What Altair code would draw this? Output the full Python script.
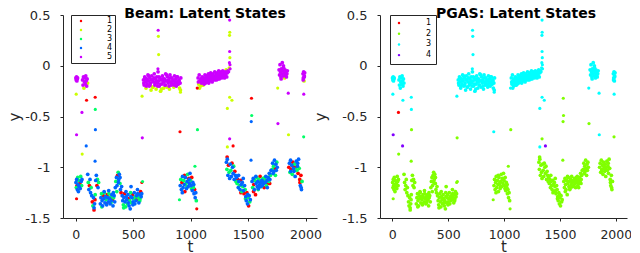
import altair as alt
import pandas as pd

FONT = "DejaVu Sans"
AXIS_GREY = "#262626"

# ---------------- data ----------------
# lower regime clusters (PGAS state 2)
lo1_t = [3, 6, 9, 12, 15, 18, 21, 24, 27, 30, 36, 40, 44, 48, 52, 55]
lo1_y = [-1.15, -1.20, -1.12, -1.18, -1.22, -1.10, -1.17, -1.24, -1.13, -1.19,
         -1.16, -1.21, -1.09, -1.14, -1.18, -1.12]
lo1_beam = "4341434434143434"

lo2_t = [105, 110, 115, 120, 125, 130, 135, 140, 145, 150, 155, 160, 165, 170,
         175, 180, 185, 190, 195, 200, 160, 168]
lo2_y = [-1.07, -1.15, -1.22, -1.18, -1.12, -1.25, -1.20, -1.28, -1.34, -1.38,
         -1.30, -1.42, -1.36, -1.27, -1.13, -1.08, -1.18, -1.12, -1.20, -1.15,
         -1.40, -1.32]
lo2_beam = "4341443413414344134341"

lo3_t = [215, 220, 225, 230, 235, 240, 245, 250, 255, 260, 265, 270, 275, 280,
         285, 290, 295, 300, 305, 310, 315, 320, 325, 330, 335, 340,
         228, 248, 268, 288, 308, 328]
lo3_y = [-1.36, -1.30, -1.26, -1.33, -1.38, -1.28, -1.31, -1.25, -1.35, -1.29,
         -1.32, -1.37, -1.27, -1.30, -1.34, -1.26, -1.31, -1.36, -1.29, -1.33,
         -1.27, -1.32, -1.38, -1.30, -1.28, -1.34,
         -1.39, -1.24, -1.36, -1.23, -1.35, -1.25]
lo3_beam = "44344143" "44341443" "44344143" "44341434"

lo4_t = [345, 350, 355, 360, 365, 370, 375, 380, 385, 390, 395, 400, 358, 372, 386]
lo4_y = [-1.20, -1.14, -1.10, -1.18, -1.08, -1.05, -1.12, -1.07, -1.16, -1.22,
         -1.25, -1.19, -1.24, -1.15, -1.10]
lo4_beam = "434413443414344"

lo5_t = list(range(405, 576, 5)) + [418, 438, 458, 478, 498, 518, 538, 558, 482]
lo5_y = [-1.28, -1.33, -1.37, -1.30, -1.26, -1.34, -1.39, -1.29, -1.32, -1.36,
         -1.27, -1.31, -1.38, -1.33, -1.41, -1.29, -1.35, -1.30, -1.27, -1.34,
         -1.31, -1.25, -1.36, -1.29, -1.33, -1.28, -1.32, -1.26, -1.30, -1.35,
         -1.27, -1.31, -1.24, -1.29, -1.26,
         -1.40, -1.24, -1.35, -1.25, -1.37, -1.30, -1.22, -1.33, -1.19]
lo5_beam = "4434143443" "4143443414" "3443441434" "4314434434" "1434"

lo6_t = list(range(910, 1051, 5)) + [928, 948, 968, 988, 1008, 1028]
lo6_y = [-1.18, -1.12, -1.22, -1.15, -1.09, -1.20, -1.13, -1.17, -1.24, -1.10,
         -1.16, -1.21, -1.14, -1.07, -1.19, -1.11, -1.16, -1.06, -1.13, -1.18,
         -1.10, -1.23, -1.15, -1.20, -1.26, -1.22, -1.30, -1.25, -1.33,
         -1.25, -1.08, -1.19, -1.12, -1.21, -1.17]
lo6_beam = "4341443414" "3443414434" "1443414434" "13434"

lo7_t = [1312, 1316, 1320, 1325, 1330, 1335, 1340, 1345, 1350, 1355, 1360, 1365,
         1370, 1375, 1380, 1385, 1390, 1395, 1318]
lo7_y = [-0.95, -1.02, -0.92, -1.08, -0.98, -1.05, -1.11, -0.97, -1.03, -1.09,
         -0.96, -1.00, -1.06, -0.99, -1.12, -1.04, -1.08, -1.14, -0.90]
lo7_beam = "434413443414434143" "1"

lo8_t = list(range(1400, 1521, 5)) + [1418, 1438, 1458, 1478, 1498]
lo8_y = [-1.10, -1.16, -1.12, -1.20, -1.14, -1.18, -1.22, -1.13, -1.17, -1.24,
         -1.15, -1.19, -1.23, -1.26, -1.18, -1.22, -1.29, -1.33, -1.25, -1.36,
         -1.30, -1.38, -1.28, -1.34, -1.32,
         -1.08, -1.25, -1.11, -1.31, -1.27]
lo8_beam = "4314434143" "4341434414" "3143441434"

lo9_t = list(range(1535, 1701, 5)) + [1548, 1568, 1588, 1608, 1628, 1648, 1668, 1688]
lo9_y = [-1.14, -1.20, -1.11, -1.17, -1.22, -1.13, -1.27, -1.16, -1.10, -1.19,
         -1.14, -1.21, -1.12, -1.17, -1.09, -1.15, -1.19, -1.13, -1.18, -1.11,
         -1.16, -1.20, -1.12, -1.15, -1.09, -1.18, -1.13, -1.16, -1.10, -1.14,
         -1.06, -1.12, -1.08, -1.03,
         -1.24, -1.09, -1.22, -1.19, -1.14, -1.10, -1.20, -1.16]
lo9_beam = "4341431434" "4434143443" "4134434143" "4434143443" "41"

lo10_t = [1710, 1714, 1718, 1722, 1726, 1730, 1734, 1738, 1742, 1746, 1750, 1754]
lo10_y = [-1.02, -0.96, -1.06, -0.99, -1.04, -0.93, -1.01, -1.08, -0.97, -1.03,
          -0.95, -1.00]
lo10_beam = "344344134434"

lo11_t = list(range(1855, 1971, 5)) + [1872, 1892, 1912, 1932, 1952, 1962]
lo11_y = [-1.00, -0.96, -1.05, -0.93, -1.02, -0.98, -1.07, -0.95, -1.01, -1.04,
          -0.97, -1.09, -1.00, -0.94, -1.03, -0.99, -1.06, -0.92, -1.01, -1.12,
          -1.18, -1.08, -1.22, -1.14,
          -1.04, -0.99, -1.02, -0.96, -1.15, -1.20]
lo11_beam = "1434143144" "3414341431" "4143413414"

# upper regime clusters (PGAS state 3)
up1_t = [2, 5, 8, 11, 14, 17]
up1_y = [-0.12, -0.14, -0.11, -0.15, -0.13, -0.12]
up1_beam = "555555"

up2_t = [60, 64, 68, 72, 76, 80, 84, 88, 92, 96, 100, 104]
up2_y = [-0.14, -0.19, -0.11, -0.22, -0.16, -0.12, -0.18, -0.10, -0.15, -0.20,
         -0.13, -0.17]
up2_beam = "555255555552"

up3_t = [590, 596, 601, 607, 612, 618, 623, 629, 634, 640,
         645, 651, 656, 662, 667, 673, 678, 684, 689, 695,
         700, 706, 711, 717, 722, 728, 733, 739, 744, 750,
         755, 761, 766, 772, 777, 783, 788, 794, 799, 805,
         810, 816, 821, 827, 832, 838, 843, 849, 854, 860,
         865, 871, 876, 882, 887, 893, 898, 904, 909, 915,
         593, 604, 615, 626, 637, 648, 659, 670, 681, 692,
         703, 714, 725, 736, 747, 758, 769, 780, 791, 802,
         813, 824, 835, 846, 857, 868, 879, 890, 901, 912]
up3_y = [-0.14, -0.19, -0.11, -0.16, -0.22, -0.13, -0.18, -0.09, -0.15, -0.20,
         -0.12, -0.17, -0.24, -0.10, -0.14, -0.21, -0.16, -0.08, -0.19, -0.13,
         -0.23, -0.11, -0.17, -0.06, -0.15, -0.20, -0.12, -0.25, -0.14, -0.18,
         -0.10, -0.16, -0.22, -0.13, -0.19, -0.08, -0.15, -0.21, -0.11, -0.17,
         -0.14, -0.23, -0.09, -0.16, -0.19, -0.12, -0.18, -0.15, -0.21, -0.10,
         -0.17, -0.13, -0.20, -0.16, -0.11, -0.18, -0.14, -0.22, -0.17, -0.12,
         -0.17, -0.12, -0.20, -0.15, -0.10, -0.19, -0.14, -0.21, -0.12, -0.17,
         -0.15, -0.20, -0.11, -0.18, -0.23, -0.13, -0.16, -0.19, -0.09, -0.15,
         -0.20, -0.12, -0.17, -0.14, -0.19, -0.16, -0.11, -0.18, -0.15, -0.24]
up3_beam = ("5555255555" "5525525555" "2555555255" "5525555255" "5255555525"
            "5555555255" "5555555255" "5555255555" "5555555552")

up4_t = list(range(1065, 1326, 5)) + list(range(1068, 1309, 10))
up4_y = [-0.12, -0.18, -0.09, -0.15, -0.20, -0.13, -0.17, -0.11, -0.16, -0.19,
         -0.12, -0.15, -0.09, -0.17, -0.13, -0.10, -0.16, -0.12, -0.08, -0.14,
         -0.11, -0.15, -0.07, -0.12, -0.10, -0.14, -0.08, -0.13, -0.11, -0.06,
         -0.12, -0.09, -0.14, -0.07, -0.11, -0.10, -0.05, -0.13, -0.08, -0.11,
         -0.06, -0.12, -0.09, -0.05, -0.10, -0.07, -0.12, -0.06, -0.09, -0.04,
         -0.11, -0.07, -0.05,
         -0.16, -0.22, -0.14, -0.19, -0.13, -0.18, -0.15, -0.11, -0.14, -0.17,
         -0.09, -0.13, -0.16, -0.10, -0.14, -0.12, -0.08, -0.13, -0.10, -0.07,
         -0.09, -0.11, -0.08, -0.10, -0.07]
up4_beam = ("5255255552" "5555555555" "5555525555" "5555555555" "5555555552" "555"
            "5252555555" "5555555555" "55255")

up5_t = list(range(1770, 1843, 4)) + [1788, 1808, 1828]
up5_y = [-0.04, -0.09, 0.01, -0.06, -0.11, -0.03, -0.08, 0.03, -0.05, -0.10,
         -0.02, -0.07, -0.12, -0.04, -0.09, -0.06, -0.11, -0.08, -0.05,
         -0.13, 0.00, -0.10]
up5_beam = "5555555555" "5525555555" "52"

up6_t = [1978, 1981, 1984, 1987, 1990, 1993, 1980, 1989]
up6_y = [-0.08, -0.12, -0.06, -0.15, -0.10, -0.07, -0.14, -0.11]
up6_beam = "55525555"

# isolated points between the regimes and spikes
out_t = [5, 8, 55, 57, 95, 92, 170, 171, 172, 169, 8,
         578, 580, 582, 576, 718, 720, 722, 716, 912, 908, 903, 1038, 1054, 1058, 1060,
         1340, 1341, 1339, 1340, 1342, 1338, 1343, 1336, 1344, 1332,
         1340, 1360, 1320, 1340, 1320, 1370,
         1530, 1532, 1528, 1526, 1758, 1760, 1850, 1852, 1985, 1984]
out_y = [-0.28, -0.68, -0.46, -0.87, -0.34, -0.79, -0.31, -0.43, -0.63, -0.94, -1.31,
         -0.30, -0.71, -1.14, -1.15, 0.35, 0.29, 0.11, -0.03, -0.26, -0.65, -1.32, -0.99,
         -1.41, -0.22, -0.63,
         0.45, 0.33, 0.30, 0.14, 0.08, 0.03, 0.01, -0.02, -0.03, -0.06,
         -0.31, -0.34, -0.42, -0.72, -0.80, -0.79,
         -0.32, -0.49, -0.55, -0.93, -0.22, -0.57, -0.27, -0.68, -0.28, -0.70]
out_beam = ("25521413441" "253152252133113" "5225255255" "222521" "1344255253")
out_pgas = ("34123433222" "322233333322232" "3333333333" "333234" "2222323332")

beam_states = ["1", "2", "3", "4", "5"]
beam_colors = ["#ff0000", "#ccff00", "#00ff66", "#0066ff", "#cc00ff"]
pgas_states = ["1", "2", "3", "4"]
pgas_colors = ["#ff0000", "#80ff00", "#00ffff", "#8000ff"]

x_ticks = [0, 500, 1000, 1500, 2000]
y_ticks = [-1.5, -1, -0.5, 0, 0.5]
titles = ["Beam: Latent States", "PGAS: Latent States"]

clusters = [
    (lo1_t, lo1_y, lo1_beam, "2"), (lo2_t, lo2_y, lo2_beam, "2"),
    (lo3_t, lo3_y, lo3_beam, "2"), (lo4_t, lo4_y, lo4_beam, "2"),
    (lo5_t, lo5_y, lo5_beam, "2"), (lo6_t, lo6_y, lo6_beam, "2"),
    (lo7_t, lo7_y, lo7_beam, "2"), (lo8_t, lo8_y, lo8_beam, "2"),
    (lo9_t, lo9_y, lo9_beam, "2"), (lo10_t, lo10_y, lo10_beam, "2"),
    (lo11_t, lo11_y, lo11_beam, "2"),
    (up1_t, up1_y, up1_beam, "3"), (up2_t, up2_y, up2_beam, "3"),
    (up3_t, up3_y, up3_beam, "3"), (up4_t, up4_y, up4_beam, "3"),
    (up5_t, up5_y, up5_beam, "3"), (up6_t, up6_y, up6_beam, "3"),
]

cluster_rows = []
for ts, ys, bs, pg in clusters:
    n = min(len(ts), len(ys), len(bs))
    for t, y, b in zip(ts[:n], ys[:n], bs[:n]):
        cluster_rows.append({"t": t, "y": y, "beam": b, "pgas": pg})
outlier_rows = [{"t": t, "y": y, "beam": b, "pgas": p}
                for t, y, b, p in zip(out_t, out_y, out_beam, out_pgas)]

dense_df = pd.DataFrame(cluster_rows)
sparse_df = pd.DataFrame(outlier_rows)

PLOT_H = 203


def panel(field, domain, colors, title, width, title_x, y_title_x, legend):
    x_enc = alt.X("t:Q",
                  scale=alt.Scale(domain=[-110, 2100], nice=False, zero=False),
                  axis=alt.Axis(values=x_ticks, title="t", format="d",
                                labelPadding=7, labelFontSize=12.5, titleY=33,
                                titleBaseline="alphabetic", titleFontSize=15))
    y_enc = alt.Y("y:Q",
                  scale=alt.Scale(domain=[-1.5, 0.5], nice=False, zero=False),
                  axis=alt.Axis(values=y_ticks,
                                labelExpr="toString(datum.value)",
                                title="y", labelPadding=10, titleAngle=270,
                                titleX=y_title_x, titleY=PLOT_H / 2,
                                titleAlign="center", titleBaseline="alphabetic"))
    c_enc = alt.Color(f"{field}:N",
                      scale=alt.Scale(domain=domain, range=colors),
                      legend=legend)
    dense = alt.Chart(dense_df.sort_values(field, kind="stable")).mark_circle(
        size=14, opacity=1).encode(x=x_enc, y=y_enc, color=c_enc)
    sparse = alt.Chart(sparse_df.sort_values(field, kind="stable")).mark_circle(
        size=10, opacity=1).encode(x=x_enc, y=y_enc, color=c_enc)
    head = alt.Chart(pd.DataFrame({"label": [title]})).mark_text(
        font=FONT, fontSize=14, fontWeight="bold", color="black",
        align="center", baseline="alphabetic",
    ).encode(text="label:N", x=alt.value(title_x), y=alt.value(3))
    return alt.layer(dense, sparse, head).properties(width=width, height=PLOT_H)


left_legend = alt.Legend(title=None, orient="none", legendX=8, legendY=0,
                         direction="vertical", fillColor="white",
                         strokeColor=AXIS_GREY, padding=2, rowPadding=1,
                         symbolType="circle", symbolSize=6, symbolOffset=4,
                         symbolStrokeWidth=0, labelOffset=22, labelFontSize=8,
                         labelFont=FONT, labelColor="black", cornerRadius=0)
right_legend = alt.Legend(title=None, orient="none", legendX=10, legendY=0,
                          direction="vertical", fillColor="white",
                          strokeColor=AXIS_GREY, padding=4, rowPadding=2.7,
                          symbolType="circle", symbolSize=6, symbolOffset=1,
                          symbolStrokeWidth=0, labelOffset=23, labelFontSize=8,
                          labelFont=FONT, labelColor="black", cornerRadius=0)

left = panel("beam", beam_states, beam_colors, titles[0], 254,
             142, -44, left_legend)
right = panel("pgas", pgas_states, pgas_colors, titles[1], 247,
              136, -55, right_legend)

chart = alt.hconcat(
    left, right, spacing=63, bounds="flush",
    padding={"left": -1, "top": -1, "right": -1, "bottom": 0},
).resolve_scale(color="independent").configure_view(stroke=None).configure_axis(
    grid=False, domainColor=AXIS_GREY, tickColor=AXIS_GREY, labelColor=AXIS_GREY,
    titleColor=AXIS_GREY, labelFont=FONT, titleFont=FONT, labelFontSize=13,
    titleFontSize=15, titleFontWeight="normal", tickSize=3, domainWidth=1,
    tickWidth=1,
)

chart.save("out.html", embed_options={"renderer": "svg", "actions": False})
